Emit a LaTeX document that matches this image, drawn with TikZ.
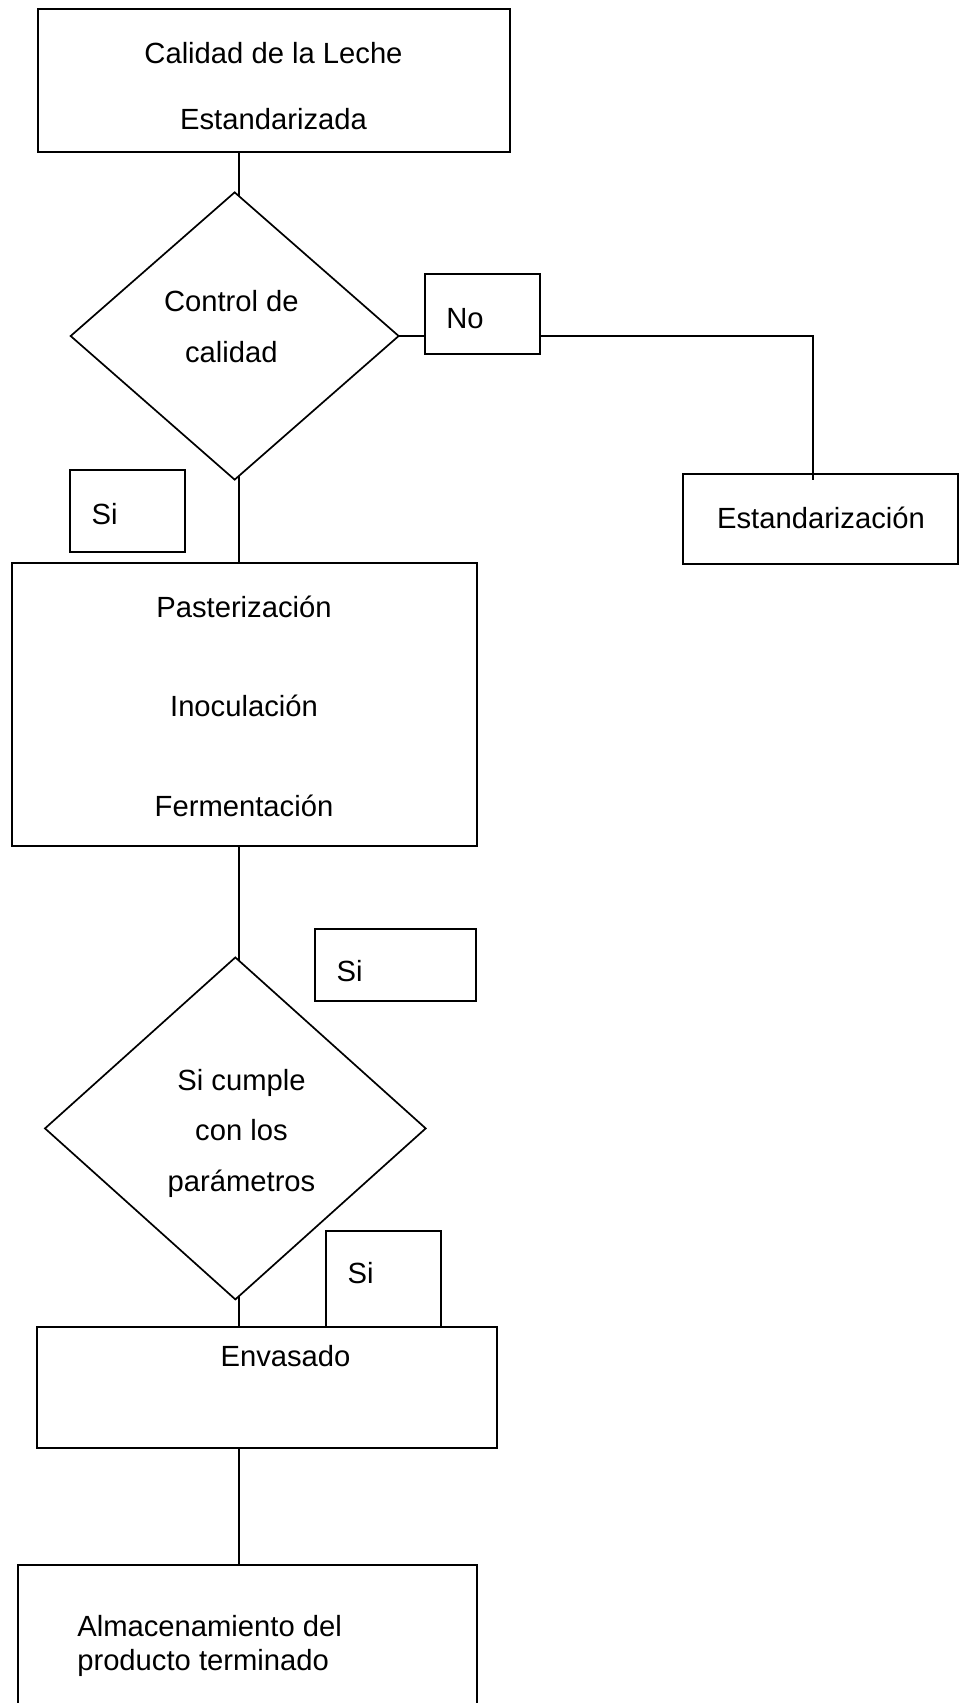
\documentclass[tikz,border=0pt]{standalone}
\usepackage{fontspec}
\setmainfont{Liberation Sans}
\usetikzlibrary{shapes.geometric,calc}
\begin{document}
\begin{tikzpicture}[x=1pt,y=-1pt,
  every node/.style={inner sep=0pt, outer sep=0pt},
  txt/.style={font=\fontsize{29.2}{34}\selectfont, anchor=base},
  txtl/.style={txt, anchor=base west},
  box/.style={draw, line width=2pt, rectangle},
  decision/.style={draw, line width=1.7pt, diamond},
  link/.style={line width=1.7pt}]
\clip (0,0) rectangle (965,1703);
\fill[white] (0,0) rectangle (965,1703);

% main trunk and the turn of the "No" branch
\coordinate (trunk) at (238.7,0);
\coordinate (nturn) at (813,336);

% shapes
\node[box, minimum width=472.5pt, minimum height=142.7pt] (b1) at (273.75,80.65) {};
\node[decision, minimum width=328pt, minimum height=287.3pt] (d1) at (234.65,336) {};
\node[box, minimum width=114.6pt, minimum height=80.3pt] (nb) at (482.7,314.15) {};
\node[box, minimum width=275pt, minimum height=90pt] (eb) at (820.5,519.3) {};
\node[box, minimum width=114.7pt, minimum height=81.8pt] (sb1) at (127.65,510.9) {};
\node[box, minimum width=465pt, minimum height=282.5pt] (b2) at (244.2,704.45) {};
\node[box, minimum width=161pt, minimum height=72.3pt] (sb2) at (395.5,965.15) {};
\node[decision, minimum width=380.7pt, minimum height=342pt] (d2) at (235.35,1128.4) {};
\node[box, minimum width=114.7pt, minimum height=96.3pt] (sb3) at (383.65,1279.15) {};
\node[box, minimum width=459.4pt, minimum height=120.4pt] (b4) at (267,1387.5) {};
\node[box, minimum width=459pt, minimum height=155pt] (b5) at (247.2,1642.5) {};

% texts
\node[txt] (t1a) at (273.5,63.3) {Calidad de la Leche};
\node[txt] (t1b) at (273.5,129.3) {Estandarizada};
\node[txt] (tc1) at (231.4,311.7) {Control de};
\node[txt] (tc2) at (231.4,362.7) {calidad};
\node[txtl] (tno) at (446.4,328.3) {No};
\node[txt] (test) at (821,528.3) {Estandarización};
\node[txtl] (tsi1) at (91.7,524) {Si};
\node[txt] (tp1) at (244,617.5) {Pasterización};
\node[txt] (tp2) at (244,716.8) {Inoculación};
\node[txt] (tp3) at (244,816.8) {Fermentación};
\node[txtl] (tsi2) at (336.7,981.7) {Si};
\node[txt] (tq1) at (241.5,1090.7) {Si cumple};
\node[txt] (tq2) at (241.5,1140.7) {con los};
\node[txt] (tq3) at (241.5,1191.7) {parámetros};
\node[txtl] (tsi3) at (347.7,1283.3) {Si};
\node[txt] (tenv) at (285.5,1366) {Envasado};
\node[txtl] (ta1) at (77.3,1636.7) {Almacenamiento del};
\node[txtl] (ta2) at (77.3,1670) {producto terminado};

% connectors
\draw[link] (b1.south -| trunk) -- ($(d1.north -| trunk)+(0,4)$);
\draw[link] ($(d1.south -| trunk)+(0,-4)$) -- (b2.north -| trunk);
\draw[link] (b2.south -| trunk) -- ($(d2.north -| trunk)+(0,3)$);
\draw[link] ($(d2.south -| trunk)+(0,-3)$) -- (b4.north -| trunk);
\draw[link] (b4.south -| trunk) -- (b5.north -| trunk);
\draw[link] (d1.east) -- (d1.east -| nb.west);
\draw[link] (nturn -| nb.east) -- (nturn) -- ($(nturn |- eb.north)+(0,6)$);
\end{tikzpicture}
\end{document}
